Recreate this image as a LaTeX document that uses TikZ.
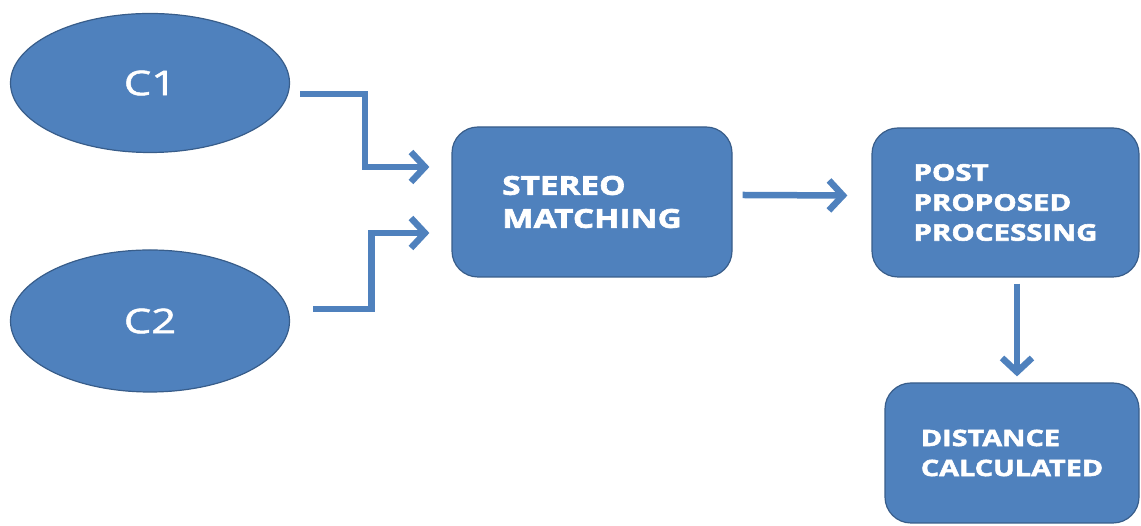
\documentclass[tikz,border=0pt]{standalone}
\usepackage{fontspec}
\setmainfont{Open Sans}[FakeStretch=1.28,BoldFeatures={FakeBold=2.5},UprightFeatures={FakeBold=1.5}]
\usepackage{tikz}
\usetikzlibrary{shapes.geometric,arrows.meta,calc}
\definecolor{boxblue}{RGB}{79,129,189}
\definecolor{edgeblue}{RGB}{56,93,138}
\tikzstyle{camera} = [ellipse,draw=edgeblue,line width=1.2pt,fill=boxblue,text=white,
    minimum width=279pt,font=\fontsize{34}{40}\selectfont
]
\tikzstyle{stage} = [rectangle,rounded corners=26pt,draw=edgeblue,line width=1.2pt,fill=boxblue,
    text=white,align=left,font=\bfseries
]
\tikzstyle{flow} = [draw=boxblue,line width=6.5pt,
    -{Straight Barb[length=14pt,width=30pt,line width=6.5pt]}
]

\begin{document}
\begin{tikzpicture}[x=1pt,y=1pt]
	\useasboundingbox (0,0) rectangle (1141,526);
	\clip (0,0) rectangle (1141,526);
	
	\node(cam1) at (150,443) [camera, minimum height=139pt] {C1};
	\node(cam2) at (150,205) [camera, minimum height=142pt] {C2};
	
	\node(matching) at (592,324) [stage, minimum width=280pt, minimum height=150pt,
	    font=\bfseries\fontsize{26}{33}\selectfont] {STEREO\\MATCHING};
	\node(post) at (1005.5,323.5) [stage, minimum width=267pt, minimum height=149pt,
	    font=\bfseries\fontsize{23}{30}\selectfont] {POST\\PROPOSED\\PROCESSING};
	\node(distance) at (1012,73) [stage, minimum width=254pt, minimum height=140pt,
	    font=\bfseries\fontsize{22.5}{30}\selectfont] {DISTANCE\\CALCULATED};
	
	\coordinate(out1) at ([shift={(10,-11)}]cam1.east);
	\coordinate(out2) at ([shift={(23,12)}]cam2.east);
	\coordinate(in1) at ([shift={(-22,35)}]matching.west);
	\coordinate(in2) at ([shift={(-22,-31)}]matching.west);
	\coordinate(out3) at ([shift={(10,7)}]matching.east);
	\coordinate(in3) at ([shift={(-24,7)}]post.west);
	\coordinate(out4) at ([shift={(11.5,-6)}]post.south);
	\coordinate(in4) at ([shift={(5,6)}]distance.north);
	
	\draw[flow] (out1) -| ($(out1)!0.5!(in1)$) |- (in1);
	\draw[flow] (out2) -| ($(out2)!0.5!(in2)$) |- (in2);
	\draw[flow] (out3) -- (in3);
	\draw[flow] (out4) -- (in4);
\end{tikzpicture}
\end{document}
